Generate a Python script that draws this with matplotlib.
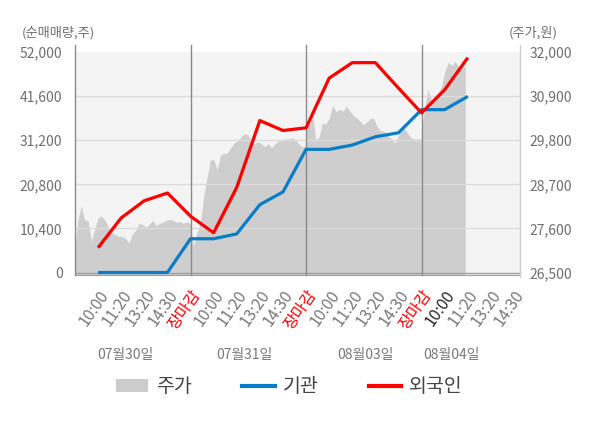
import numpy as np
import matplotlib
matplotlib.use("Agg")
import matplotlib.pyplot as plt
from matplotlib.patches import Patch
from matplotlib.lines import Line2D
import matplotlib.transforms as mtransforms

plt.rcParams['font.family'] = ['Noto Sans CJK KR', 'DejaVu Sans']

# ---------------- data ----------------
dates = ['07월30일', '07월31일', '08월03일', '08월04일']
times = ['10:00', '11:20', '13:20', '14:30', '장마감']

# net buying (shares) at each time slot, slots 1..17
inst = [0, 0, 0, 0, 7960, 7960, 9100, 16000, 19000, 29040,
        29040, 30050, 32010, 32950, 38410, 38410, 41520]
foreign = [5850, 12880, 16930, 18740, 13270, 9370, 20070, 35830, 33490, 34120,
           45830, 49490, 49490, 43490, 37640, 43090, 50660]

# stock price (won), sampled evenly through each trading day
price_d1 = [27020, 27790, 28160, 27790, 27790, 27270, 27590, 27860, 27890, 27790,
            27590, 27490, 27440, 27390, 27390, 27340, 27220, 27440, 27540, 27710,
            27690, 27620, 27690, 27790, 27660, 27710, 27740, 27790, 27810, 27790,
            27740, 27760, 27710, 27760, 27710]
price_d2 = [27760, 27140, 27470, 27690, 28380, 28850, 29300, 29300, 29050, 29420,
            29450, 29470, 29600, 29720, 29770, 29870, 29940, 29920, 29800, 29700,
            29750, 29700, 29620, 29700, 29600, 29700, 29770, 29800, 29820, 29820,
            29850, 29800, 29700, 29620, 29650]
price_d3 = [30070, 30270, 30510, 29800, 29870, 30220, 30190, 30340, 30660, 30490,
            30560, 30510, 30640, 30510, 30410, 30340, 30270, 30170, 30240, 30320,
            30340, 30140, 30020, 30020, 29920, 29850, 29720, 29820, 30040, 30090,
            29970, 29850, 29820, 29820, 29820]
price_d4 = [29940, 30560, 31060, 30790, 30890, 30980, 31130, 31500, 31730, 31650,
            31750, 31630, 31630, 31600]

vol_ticks = [0, 10400, 20800, 31200, 41600, 52000]
price_ticks = [26500, 27600, 28700, 29800, 30900, 32000]

# ---------------- style ----------------
C_BLUE = '#0a7dc9'
C_RED = '#ff0000'
C_FILL = '#cecece'
C_TXT = '#6e6e6e'

fig = plt.figure(figsize=(6, 4.28), dpi=100)
ax_p = fig.add_axes([75 / 600, 1 - 274.5 / 428, 445 / 600, 222.5 / 428])
ax_v = ax_p.twinx()

ax_p.set_facecolor('#f4f4f4')
slots_per_day = 5

# price area
xs, ys = [], []
for d, pr in enumerate([price_d1, price_d2, price_d3, price_d4]):
    step = slots_per_day / (len(price_d1) - 1)
    pos = d * slots_per_day + np.arange(len(pr)) * step
    xs.extend(pos)
    ys.extend(pr)
ax_p.fill_between(xs, ys, 20000, color=C_FILL, lw=0, zorder=1)

pad_frac = 2 / 220.5
ax_p.set_ylim(price_ticks[0] - (price_ticks[-1] - price_ticks[0]) * pad_frac, price_ticks[-1])
ax_v.set_ylim(-(vol_ticks[-1]) * pad_frac, vol_ticks[-1])
ax_p.set_xlim(0, 19.26)

# grid lines (over fill)
for v in vol_ticks[1:-1]:
    ax_v.axhline(v, color='#dcdcdc', lw=1, zorder=1)
ax_v.axhline(0, color='#a0a0a0', lw=1, zorder=1)

# day separators & axis lines
for b in [0, 5, 10, 15]:
    ax_v.axvline(b, ymin=0, ymax=1.032, color='#8a8a8a', lw=1, clip_on=False, zorder=1.2)
ax_v.axvline(19.26, ymin=-0.01, ymax=1.032, color='#cfcfcf', lw=1, clip_on=False, zorder=1.2)
for sp in list(ax_p.spines.values()) + list(ax_v.spines.values()):
    sp.set_visible(False)
ax_p.spines['bottom'].set_visible(True)
ax_p.spines['bottom'].set_color('#a0a0a0')

# net-buying lines
slots = np.arange(1, len(inst) + 1)
ax_v.plot(slots, inst, color=C_BLUE, lw=2.3, zorder=3, solid_capstyle='butt')
ax_v.plot(slots, foreign, color=C_RED, lw=2.3, zorder=4, solid_capstyle='butt')

# y ticks
ax_v.yaxis.tick_left()
ax_p.yaxis.tick_right()
ax_v.set_yticks(vol_ticks)
ax_v.set_yticklabels([f'{v:,}' for v in vol_ticks])
ax_p.set_yticks(price_ticks)
ax_p.set_yticklabels([f'{v:,}' for v in price_ticks])
ax_v.tick_params(axis='y', length=0, pad=9, labelsize=10, labelcolor=C_TXT)
ax_p.tick_params(axis='y', length=0, pad=7, labelsize=10, labelcolor=C_TXT)

# x ticks
xt = np.arange(1, 20)
labels = (times * 4)[:len(xt)]
ax_p.set_xticks(xt)
ax_p.set_xticklabels(labels, rotation=55, ha='right', va='top', rotation_mode='anchor')
ax_p.tick_params(axis='x', length=0, pad=9, labelsize=11.5)
for i, lbl in enumerate(ax_p.get_xticklabels()):
    if lbl.get_text() == '장마감':
        lbl.set_color('red')
    elif i == 15:
        lbl.set_color('#222222')
    else:
        lbl.set_color('#777777')

# date labels
date_pos = [2.2, 7.35, 12.55, 16.3]
trans = mtransforms.blended_transform_factory(ax_p.transData, ax_p.transAxes)
for p, d in zip(date_pos, dates):
    ax_p.text(p, -0.36, d, transform=trans, ha='center', va='center',
              fontsize=10, color='#777777')

# axis titles
fig.text(22 / 600, 1 - 33 / 428, '(순매매량,주)', ha='left', va='center', fontsize=9.5, color=C_TXT)
fig.text(509 / 600, 1 - 33 / 428, '(주가,원)', ha='left', va='center', fontsize=9.5, color=C_TXT)

# legend
handles = [Patch(facecolor='#cccccc', edgecolor='none'),
           Line2D([], [], color=C_BLUE, lw=3),
           Line2D([], [], color=C_RED, lw=3)]
fig.legend(handles, ['주가', '기관', '외국인'], loc='center', bbox_to_anchor=(0.482, 0.096),
           ncol=3, frameon=False, fontsize=14, handlelength=1.65, handleheight=0.7,
           handletextpad=0.4, columnspacing=2.6, labelcolor='#444444')

fig.savefig('out.png', dpi=100)
